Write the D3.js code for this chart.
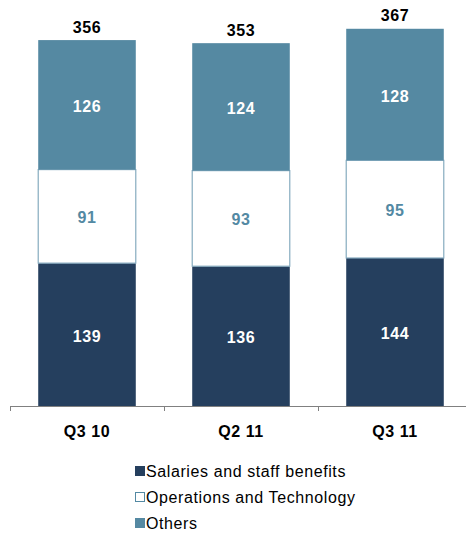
<!DOCTYPE html>
<html>
<head>
<meta charset="utf-8">
<script src="https://cdn.jsdelivr.net/npm/d3@7"></script>
<style>
  html, body { margin: 0; padding: 0; background: #fff; }
  svg { display: block; font-family: "Liberation Sans", Arial, sans-serif; }
</style>
</head>
<body>
<svg id="chart" width="466" height="534"></svg>
<script>
// Quarterly cost breakdown
const quarters = ["Q3 10", "Q2 11", "Q3 11"];
const salaries = [139, 136, 144];
const operations = [91, 93, 95];
const others = [126, 124, 128];
const totals = [356, 353, 367];
const seriesNames = ["Salaries and staff benefits", "Operations and Technology", "Others"];

const colors = {
  salaries: "#253F5E",
  operations: "#FFFFFF",
  others: "#5589A2"
};
const labelColors = ["#FFFFFF", "#5389A3", "#FFFFFF"];

const svg = d3.select("#chart");

const x = d3.scaleBand()
  .domain(quarters)
  .range([10, 472])
  .paddingInner(0.36)
  .paddingOuter(0.18);

const y = d3.scaleLinear()
  .domain([0, 395])
  .range([406, 0]);

const rows = quarters.map((q, i) => ({
  quarter: q,
  salaries: salaries[i],
  operations: operations[i],
  others: others[i],
  total: totals[i]
}));

const keys = ["salaries", "operations", "others"];
const stacked = d3.stack().keys(keys)(rows);

const boldLabel = sel => sel
  .attr("font-size", 16)
  .attr("font-weight", "bold")
  .attr("letter-spacing", 0.6);

const layers = svg.append("g").selectAll("g")
  .data(stacked)
  .join("g");

layers.selectAll("rect")
  .data(d => d.map(p => ({ key: d.key, p })))
  .join("rect")
  .attr("x", d => x(d.p.data.quarter) + 0.5)
  .attr("y", d => y(d.p[1]))
  .attr("width", x.bandwidth() - 1)
  .attr("height", d => y(d.p[0]) - y(d.p[1]))
  .attr("fill", d => colors[d.key])
  .attr("stroke", d => d.key === "operations" ? "#86ABBF" : "none")
  .attr("stroke-width", 1.2);

// segment values
layers.each(function (layer, li) {
  d3.select(this).selectAll("text")
    .data(layer)
    .join("text")
    .attr("x", p => x(p.data.quarter) + x.bandwidth() / 2)
    .attr("y", p => (y(p[0]) + y(p[1])) / 2 + 7)
    .attr("text-anchor", "middle")
    .call(boldLabel)
    .attr("fill", labelColors[li])
    .text(p => p[1] - p[0]);
});

// totals above bars
svg.append("g").selectAll("text")
  .data(rows)
  .join("text")
  .attr("x", d => x(d.quarter) + x.bandwidth() / 2)
  .attr("y", d => y(d.total) - 7.5)
  .attr("text-anchor", "middle")
  .call(boldLabel)
  .attr("fill", "#000")
  .text(d => d.total);

// category axis
const axisG = svg.append("g").attr("transform", `translate(0,${y(0)})`);
axisG.append("line")
  .attr("x1", 10).attr("x2", 466)
  .attr("y1", 0.5).attr("y2", 0.5)
  .attr("stroke", "#808080").attr("stroke-width", 1);
const step = x.step();
const tickXs = d3.range(quarters.length + 1).map(i => 10 + i * step);
axisG.selectAll("line.tick")
  .data(tickXs)
  .join("line")
  .attr("class", "tick")
  .attr("x1", d => Math.round(d) + 0.5).attr("x2", d => Math.round(d) + 0.5)
  .attr("y1", 0.5).attr("y2", 5)
  .attr("stroke", "#808080");
axisG.selectAll("text")
  .data(quarters)
  .join("text")
  .attr("x", d => x(d) + x.bandwidth() / 2)
  .attr("y", 31)
  .attr("text-anchor", "middle")
  .call(boldLabel)
  .attr("fill", "#000")
  .text(d => d);

// legend
const legend = svg.append("g").attr("transform", "translate(135,466)");
const legendItems = legend.selectAll("g")
  .data(keys)
  .join("g")
  .attr("transform", (d, i) => `translate(0,${i * 26})`);
legendItems.append("rect")
  .attr("x", 0.5).attr("y", 0.5)
  .attr("width", 9).attr("height", 9)
  .attr("fill", d => colors[d])
  .attr("stroke", d => d === "operations" ? "#5389A3" : colors[d])
  .attr("stroke-width", 1);
legendItems.append("text")
  .attr("x", 11)
  .attr("y", 11)
  .attr("font-size", 16)
  .attr("letter-spacing", 0.6)
  .attr("fill", "#000")
  .text((d, i) => seriesNames[i]);
</script>
</body>
</html>
